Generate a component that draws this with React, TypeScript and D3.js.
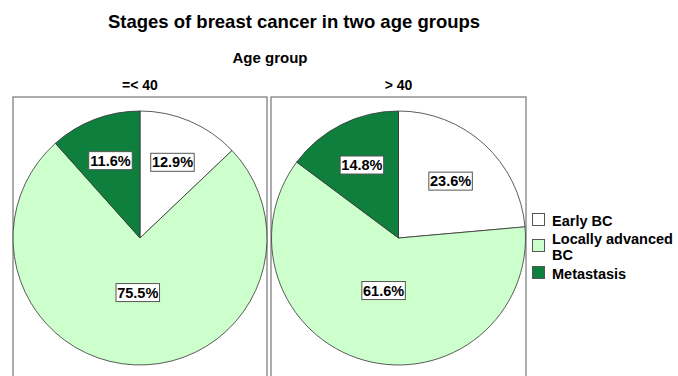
import React from 'react';
import * as d3 from 'd3';

const stages = ['Early BC', 'Locally advanced BC', 'Metastasis'];
const ageGroups = ['=< 40', '> 40'];
const youngPct = [12.9, 75.5, 11.6];
const olderPct = [23.6, 61.6, 14.8];
const stageColors = ['#ffffff', '#ccffcc', '#0f7f3d'];

const W = 678;
const H = 376;
const FONT = "Arial, 'Liberation Sans', sans-serif";

const panels = [
  { x0: 13, x1: 267, values: youngPct },
  { x0: 271, x1: 526, values: olderPct },
];
const panelTop = 97;
const pieCy = 238;
const radius = 127;

const pieGen = d3.pie<number>().sort(null).value((d) => d).startAngle(0).endAngle(2 * Math.PI);
const arcGen = d3.arc<d3.PieArcDatum<number>>().innerRadius(0).outerRadius(radius);

// label sits near the sector centroid, but not too close to the middle for big slices
function labelPos(d: d3.PieArcDatum<number>) {
  const half = (d.endAngle - d.startAngle) / 2;
  const cDist = (2 * radius * Math.sin(half)) / (3 * half);
  const dist = Math.max(cDist, 0.43 * radius);
  const mid = (d.startAngle + d.endAngle) / 2;
  return [Math.sin(mid) * dist, -Math.cos(mid) * dist];
}

// wrap long legend names onto two lines, like the original
function legendLines(s: string) {
  return s === 'Locally advanced BC' ? ['Locally advanced', 'BC'] : [s];
}

export default function App() {
  return (
    <div style={{ position: 'absolute', left: 0, top: 0 }}>
      <svg width={W} height={H} style={{ display: 'block', background: '#fff' }} fontFamily={FONT}>
        <text x={294} y={28} textAnchor="middle" fontSize={18.5} fontWeight="bold" fill="#000">
          Stages of breast cancer in two age groups
        </text>
        <text x={270} y={63} textAnchor="middle" fontSize={15} fontWeight="bold" fill="#000">
          Age group
        </text>

        {panels.map((p, pi) => {
          const cx = (p.x0 + p.x1) / 2;
          const arcs = pieGen(p.values);
          return (
            <g key={pi}>
              <text x={cx} y={90} textAnchor="middle" fontSize={14} fontWeight="bold" fill="#000">
                {ageGroups[pi]}
              </text>
              <rect x={p.x0} y={panelTop} width={p.x1 - p.x0} height={H - panelTop + 10} fill="none" stroke="#808080" strokeWidth={1.3} />
              <g transform={`translate(${cx},${pieCy})`}>
                {arcs.map((a, i) => (
                  <path key={i} d={arcGen(a) || ''} fill={stageColors[i]} stroke="#333" strokeWidth={0.8} />
                ))}
                {arcs.map((a, i) => {
                  const [lx, ly] = labelPos(a);
                  const label = `${p.values[i].toFixed(1)}%`;
                  const bw = label.length * 8.3 + 2;
                  return (
                    <g key={`l${i}`} transform={`translate(${lx},${ly})`}>
                      <rect x={-bw / 2} y={-9} width={bw} height={18} fill="#fff" stroke="#555" strokeWidth={1} />
                      <text x={0} y={5} textAnchor="middle" fontSize={14.5} fontWeight="bold" fill="#000">
                        {label}
                      </text>
                    </g>
                  );
                })}
              </g>
            </g>
          );
        })}

        <g transform="translate(532,213)">
          {stages.map((s, i) => {
            const y = [0, 26, 53][i];
            const lines = legendLines(s);
            return (
              <g key={s} transform={`translate(0,${y})`}>
                <rect x={0.5} y={0.5} width={12} height={12} fill={stageColors[i]} stroke="#555" strokeWidth={1} />
                {lines.map((t, li) => (
                  <text
                    key={t}
                    x={20}
                    y={(lines.length > 1 ? 5 : 13) + li * 16}
                    fontSize={14.5}
                    fontWeight="bold"
                    fill="#000"
                  >
                    {t}
                  </text>
                ))}
              </g>
            );
          })}
        </g>
      </svg>
    </div>
  );
}
